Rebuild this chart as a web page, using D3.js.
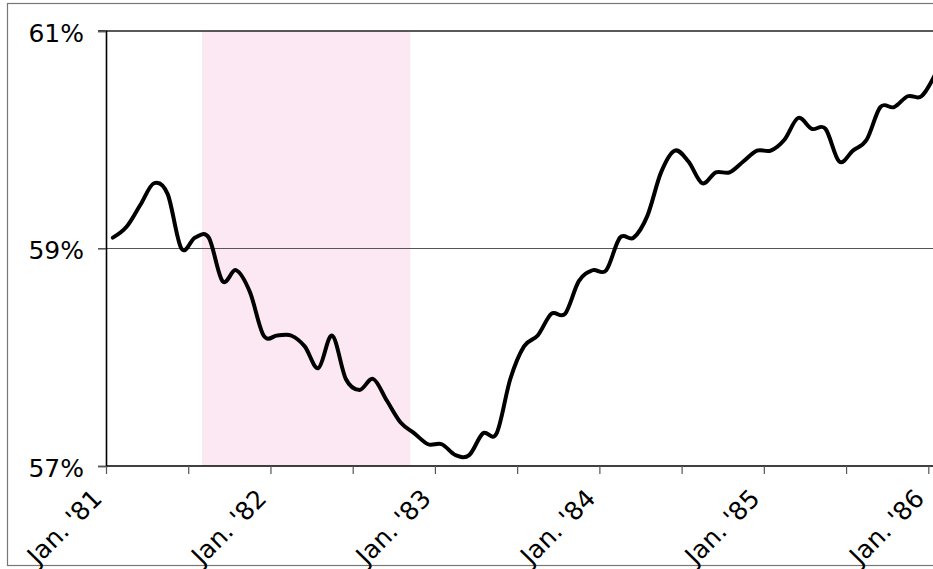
<!DOCTYPE html>
<html>
<head>
<meta charset="utf-8">
<script src="https://cdn.jsdelivr.net/npm/d3@7/dist/d3.min.js"></script>
<style>
  html, body { margin: 0; padding: 0; background: #fff; overflow: hidden; }
  svg { display: block; }
  text { font-family: "DejaVu Sans", Verdana, sans-serif; fill: #000; }
</style>
</head>
<body>
<svg id="chart" width="933" height="569"></svg>
<script>
// Employment-population ratio, monthly, Jan 1981 .. Jan 1986 (percent)
const values1981 = [59.1, 59.2, 59.4, 59.6, 59.5, 59.0, 59.1, 59.1, 58.7, 58.8, 58.6, 58.2];
const values1982 = [58.2, 58.2, 58.1, 57.9, 58.2, 57.8, 57.7, 57.8, 57.6, 57.4, 57.3, 57.2];
const values1983 = [57.2, 57.1, 57.1, 57.3, 57.3, 57.8, 58.1, 58.2, 58.4, 58.4, 58.7, 58.8];
const values1984 = [58.8, 59.1, 59.1, 59.3, 59.7, 59.9, 59.8, 59.6, 59.7, 59.7, 59.8, 59.9];
const values1985 = [59.9, 60.0, 60.2, 60.1, 60.1, 59.8, 59.9, 60.0, 60.3, 60.3, 60.4, 60.4];
const values1986 = [60.6];
const series = [].concat(values1981, values1982, values1983, values1984, values1985, values1986);

const xTickLabels = ["Jan. '81", "Jan. '82", "Jan. '83", "Jan. '84", "Jan. '85", "Jan. '86"];
const yTicks = [57, 59, 61];
// Recession shading, in months since Jan 1981 (Aug 1981 .. early Nov 1982)
const recession = [7, 22.2];

const svg = d3.select("#chart");
const plotLeft = 106, plotRight = 928.3, plotTop = 31, plotBottom = 466;

const x = d3.scaleLinear().domain([0, 60]).range([plotLeft, plotRight]);
const y = d3.scaleLinear().domain([57, 61]).range([plotBottom, plotTop]);

// outer frame
svg.append("rect")
  .attr("x", 7.5).attr("y", 3.5).attr("width", 1000).attr("height", 562)
  .attr("fill", "none").attr("stroke", "#777").attr("stroke-width", 1.2);

// recession band
svg.append("rect")
  .attr("x", x(recession[0])).attr("y", y(61))
  .attr("width", x(recession[1]) - x(recession[0]))
  .attr("height", y(57) - y(61))
  .attr("fill", "#fce8f2");

// horizontal gridlines
svg.append("g").selectAll("line").data(yTicks.filter(d => d !== 57)).join("line")
  .attr("x1", plotLeft - 8).attr("x2", 1000)
  .attr("y1", d => y(d)).attr("y2", d => y(d))
  .attr("stroke", d => d === 61 ? "#222" : "#555")
  .attr("stroke-width", d => d === 61 ? 1.5 : 1.2);

// y axis
const yAxis = d3.axisLeft(y).tickValues(yTicks).tickSize(8).tickPadding(14)
  .tickFormat(d => d + "%");
const gy = svg.append("g").attr("transform", `translate(${plotLeft},0)`).call(yAxis);
gy.select(".domain").attr("stroke", "#000").attr("stroke-width", 1.6);
gy.selectAll(".tick line").attr("stroke", "#555").attr("stroke-width", 1.2);
gy.selectAll(".tick text").attr("font-size", 25).attr("fill", "#000")
  .attr("dy", "0.40em")
  .attr("font-family", "DejaVu Sans, Verdana, sans-serif");

// x axis
const xAxis = d3.axisBottom(x).tickValues(d3.range(0, 61, 6)).tickSize(8)
  .tickFormat(d => d % 12 === 0 ? xTickLabels[d / 12] : "");
const gx = svg.append("g").attr("transform", `translate(0,${plotBottom})`).call(xAxis);
gx.select(".domain").attr("stroke", "#000").attr("stroke-width", 1.6)
  .attr("d", `M${plotLeft},0H1000`);
gx.selectAll(".tick line").attr("stroke", "#555").attr("stroke-width", 1.2);
gx.selectAll(".tick text")
  .attr("font-size", 25).attr("fill", "#000")
  .attr("font-family", "DejaVu Sans, Verdana, sans-serif")
  .attr("text-anchor", "end")
  .attr("y", 0).attr("dy", 0)
  .attr("transform", "translate(-3,34) rotate(-45)");

// data line
const line = d3.line()
  .x((d, i) => x(i + 0.5))
  .y(d => y(d))
  .curve(d3.curveCatmullRom.alpha(0));
svg.append("path")
  .datum(series)
  .attr("d", line)
  .attr("fill", "none")
  .attr("stroke", "#000")
  .attr("stroke-width", 4)
  .attr("stroke-linejoin", "round")
  .attr("stroke-linecap", "round");
</script>
</body>
</html>
